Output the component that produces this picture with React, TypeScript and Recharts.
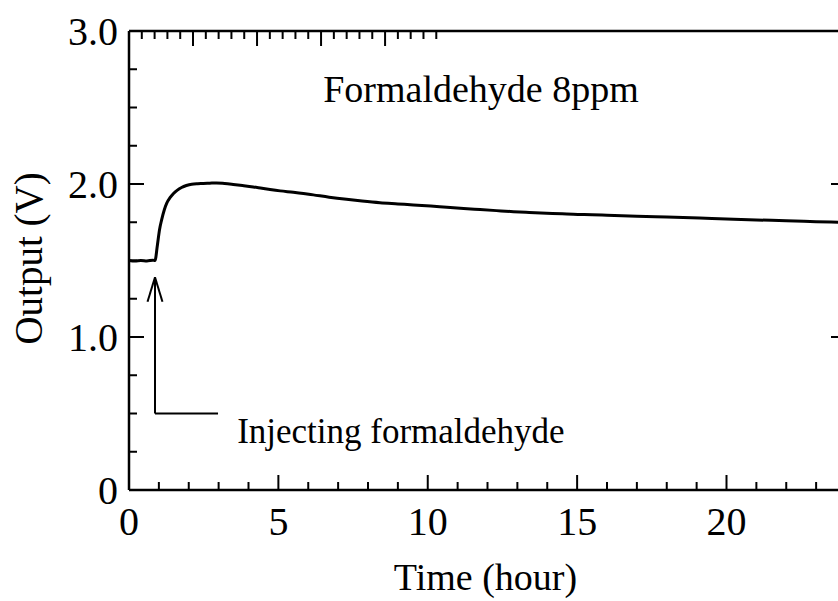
import {
  LineChart,
  Line,
  XAxis,
  YAxis,
  Label,
  ReferenceLine,
  ReferenceDot,
} from 'recharts'

const FONT = '"Liberation Serif", "Times New Roman", serif'

// time (hour) and sensor output (V)
const TIME = [
  0, 0.2, 0.4, 0.6, 0.8, 0.87, 0.95, 1.02, 1.09, 1.18, 1.26, 1.38, 1.49, 1.62,
  1.76, 1.92, 2.1, 2.3, 2.49, 2.7, 2.93, 3.2, 3.49, 3.8, 4.16, 4.45, 4.72, 5.06,
  5.5, 5.84, 6.17, 6.7, 7.28, 7.8, 8.4, 9.0, 9.52, 10.1, 10.64, 11.2, 11.75,
  12.3, 12.87, 13.4, 13.98, 14.5, 14.87, 15.5, 16, 17, 18, 19.1, 20, 21, 22, 23,
  24,
]
const VOLT = [
  1.5, 1.496, 1.5, 1.497, 1.502, 1.5, 1.6, 1.7, 1.764, 1.83, 1.873, 1.912, 1.938,
  1.96, 1.977, 1.99, 1.999, 2.002, 2.003, 2.005, 2.007, 2.003, 1.997, 1.99,
  1.981, 1.972, 1.964, 1.955, 1.946, 1.938, 1.929, 1.914, 1.9, 1.889, 1.878,
  1.87, 1.863, 1.856, 1.848, 1.84, 1.833, 1.826, 1.819, 1.814, 1.809, 1.805,
  1.802, 1.799, 1.796, 1.79, 1.784, 1.777, 1.771, 1.765, 1.76, 1.754, 1.748,
]

const X_TICKS = Array.from({ length: 25 }, (_, i) => i)
const Y_TICKS = Array.from({ length: 13 }, (_, i) => i * 0.25)

// annotation: arrow pointing at the injection moment
const ARROW_X = 0.87
const ARROW_TIP = 1.39
const ARROW_FOOT = 0.5
const ARROW_END_X = 2.98
const HEAD_DX = 0.25
const HEAD_DY = 0.16

const data = TIME.map((t, i) => ({ t, v: VOLT[i] }))

const isMajorX = (v: number) => v % 5 === 0
const isMajorY = (v: number) => Math.abs(v - Math.round(v)) < 1e-6

function BottomTick(props: any) {
  const { x, y, payload } = props
  const major = isMajorX(payload.value)
  return (
    <g>
      <line x1={x} y1={y} x2={x} y2={y - (major ? 15 : 8)} stroke="#000" strokeWidth={2} />
      {major && payload.value < 24 && (
        <text x={x} y={y + 45} textAnchor="middle" fontSize={40} fontFamily={FONT} fill="#000">
          {payload.value}
        </text>
      )}
    </g>
  )
}

function TopTick(props: any) {
  const { x, y, payload } = props
  const major = isMajorX(payload.value)
  return <line x1={x} y1={y} x2={x} y2={y + (major ? 15 : 8)} stroke="#000" strokeWidth={2} />
}

function LeftTick(props: any) {
  const { x, y, payload } = props
  const major = isMajorY(payload.value)
  return (
    <g>
      <line x1={x} y1={y} x2={x + (major ? 15 : 8)} y2={y} stroke="#000" strokeWidth={2} />
      {major && (
        <text x={x - 11} y={y + 14} textAnchor="end" fontSize={40} fontFamily={FONT} fill="#000">
          {payload.value === 0 ? '0' : payload.value.toFixed(1)}
        </text>
      )}
    </g>
  )
}

function RightTick(props: any) {
  const { x, y, payload } = props
  const major = isMajorY(payload.value)
  return <line x1={x} y1={y} x2={x - (major ? 15 : 8)} y2={y} stroke="#000" strokeWidth={2} />
}

function XTitle(props: any) {
  const vb = props.viewBox
  return (
    <text x={vb.x + vb.width / 2 - 2} y={vb.y + 100} textAnchor="middle" fontSize={38} fontFamily={FONT} fill="#000">
      Time (hour)
    </text>
  )
}

function YTitle(props: any) {
  const vb = props.viewBox
  const cx = 42
  const cy = vb.y + vb.height / 2 - 2
  return (
    <text x={cx} y={cy} transform={`rotate(-90 ${cx} ${cy})`} textAnchor="middle" fontSize={39} fontFamily={FONT} fill="#000">
      Output (V)
    </text>
  )
}

function note(text: string, size: number) {
  return (props: any) => {
    const vb = props.viewBox
    return (
      <text x={vb.x} y={vb.y} textAnchor="start" fontSize={size} fontFamily={FONT} fill="#000">
        {text}
      </text>
    )
  }
}

const seg = (x1: number, y1: number, x2: number, y2: number) => [
  { x: x1, y: y1 },
  { x: x2, y: y2 },
]

export default function App() {
  return (
    <div style={{ position: 'absolute', left: 0, top: 0, width: 838, height: 601, overflow: 'hidden', background: '#fff' }}>
      <LineChart width={880} height={601} data={data} margin={{ top: 0, right: 0, bottom: 0, left: 0 }}>
        <XAxis
          dataKey="t"
          type="number"
          domain={[0, 24]}
          ticks={X_TICKS}
          interval={0}
          allowDataOverflow
          height={111}
          tickSize={0}
          tickMargin={0}
          tickLine={false}
          tick={<BottomTick />}
          axisLine={{ stroke: '#000', strokeWidth: 2.5 }}
        >
          <Label content={<XTitle />} />
        </XAxis>
        <XAxis
          xAxisId="top"
          orientation="top"
          type="number"
          domain={[0, 24]}
          ticks={X_TICKS}
          interval={0}
          allowDataOverflow
          height={31}
          tickSize={0}
          tickMargin={0}
          tickLine={false}
          tick={<TopTick />}
          axisLine={{ stroke: '#000', strokeWidth: 2.5 }}
        />
        <YAxis
          type="number"
          domain={[0, 3]}
          ticks={Y_TICKS}
          interval={0}
          allowDataOverflow
          width={129}
          tickSize={0}
          tickMargin={0}
          tickLine={false}
          tick={<LeftTick />}
          axisLine={{ stroke: '#000', strokeWidth: 2.5 }}
        >
          <Label content={<YTitle />} />
        </YAxis>
        <YAxis
          yAxisId="right"
          orientation="right"
          type="number"
          domain={[0, 3]}
          ticks={Y_TICKS}
          interval={0}
          allowDataOverflow
          width={34}
          tickSize={0}
          tickMargin={0}
          tickLine={false}
          tick={<RightTick />}
          axisLine={{ stroke: '#000', strokeWidth: 2.5 }}
        />
        <Line
          type="monotone"
          dataKey="v"
          stroke="#000"
          strokeWidth={3}
          dot={false}
          isAnimationActive={false}
        />
        <ReferenceLine segment={seg(ARROW_X, ARROW_FOOT, ARROW_X, ARROW_TIP)} stroke="#000" strokeWidth={2} />
        <ReferenceLine segment={seg(ARROW_X, ARROW_FOOT, ARROW_END_X, ARROW_FOOT)} stroke="#000" strokeWidth={2} />
        <ReferenceLine
          segment={seg(ARROW_X - HEAD_DX, ARROW_TIP - HEAD_DY, ARROW_X, ARROW_TIP)}
          stroke="#000"
          strokeWidth={2}
        />
        <ReferenceLine
          segment={seg(ARROW_X + HEAD_DX, ARROW_TIP - HEAD_DY, ARROW_X, ARROW_TIP)}
          stroke="#000"
          strokeWidth={2}
        />
        <ReferenceDot x={6.5} y={2.536} r={0} fill="none" stroke="none" label={note('Formaldehyde 8ppm', 38)} />
        <ReferenceDot x={3.62} y={0.305} r={0} fill="none" stroke="none" label={note('Injecting formaldehyde', 35)} />
      </LineChart>
    </div>
  )
}
